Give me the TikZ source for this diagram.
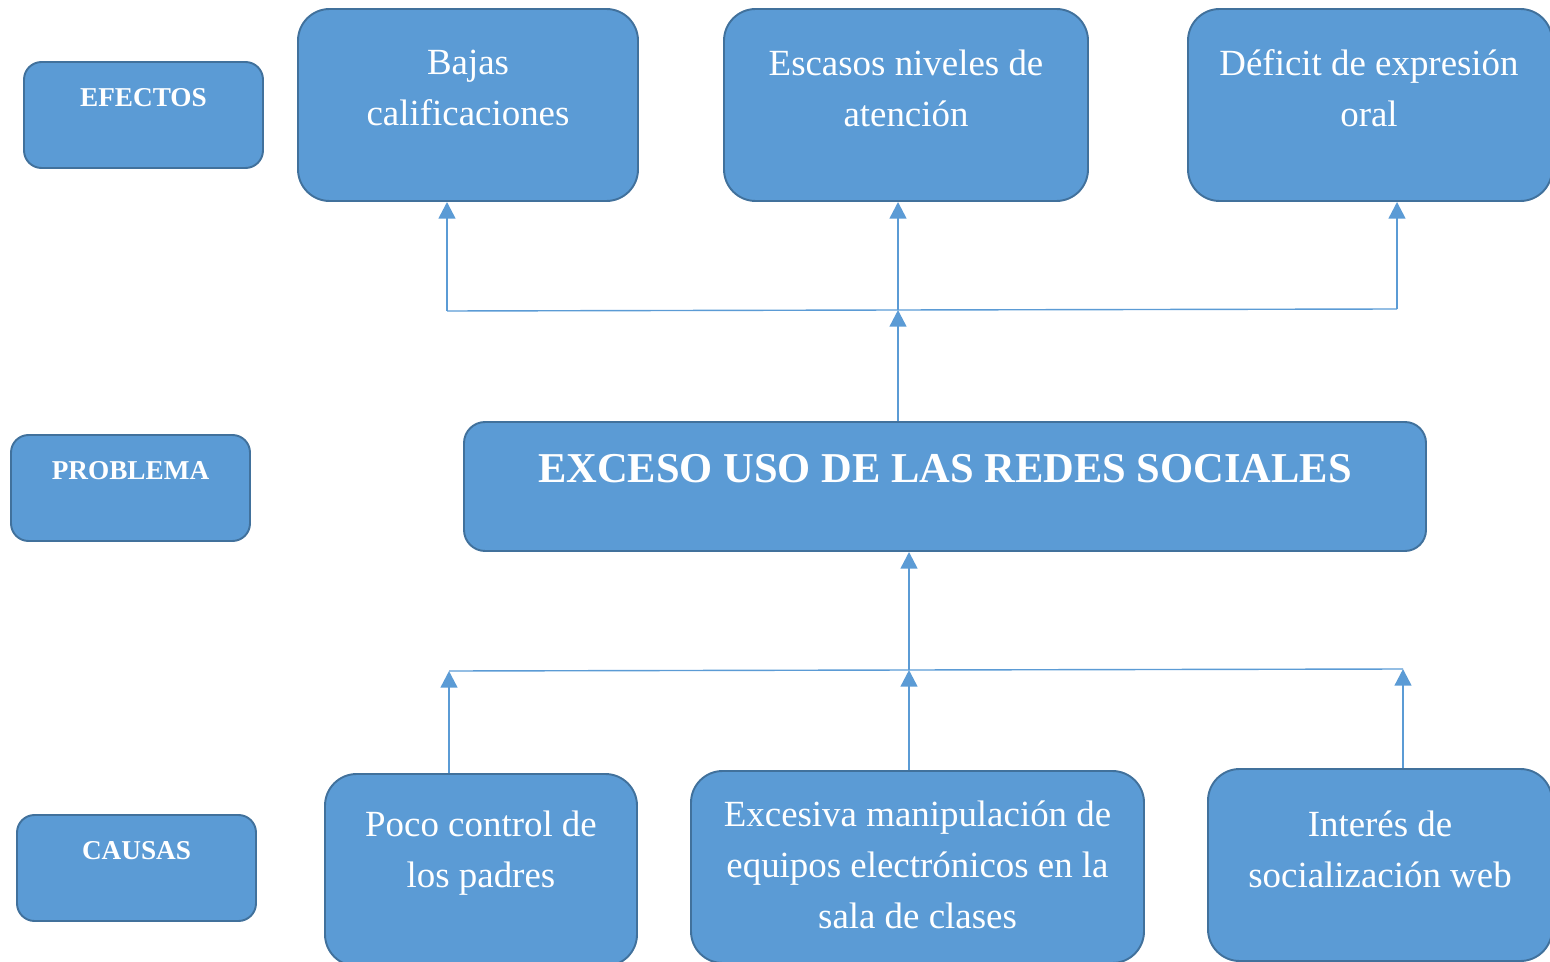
\documentclass[tikz,border=0pt]{standalone}
\usepackage{fontspec}
\setmainfont{Liberation Serif}
\usepackage{tikz}
\usetikzlibrary{arrows.meta}
\definecolor{azul}{HTML}{5B9BD5}
\definecolor{borde}{HTML}{41719C}

\tikzset{
	caja/.style={draw=borde, fill=azul, line width=1.1pt, inner sep=0pt, rounded corners=#1},
	caja/.default=10pt,
	txt/.style={text=white, align=center, font=\fontsize{21}{29}\selectfont},
	etiqueta/.style={text=white, font=\fontsize{15.5}{18}\selectfont\bfseries},
	flecha/.style={draw=azul, line width=1.4pt, -{Triangle[width=9.5pt,length=9.5pt]}},
	bus/.style={draw=azul, line width=0.8pt}
}

\begin{document}
\begin{tikzpicture}[x=0.02cm, y=-0.02cm]
	\newcommand\px{0.02cm}
	
	\useasboundingbox (0,0) rectangle (1550,962);
	\clip (0,0) rectangle (1550,962);
	
	% columna izquierda
	\node[caja, minimum width=239*\px, minimum height=106*\px] (efectos) at (143.5,115) {};
	\node[etiqueta] (tefectos) at (143.5,98) {EFECTOS};
	\node[caja, minimum width=239*\px, minimum height=106*\px] (problema) at (130.5,488) {};
	\node[etiqueta] (tproblema) at (130.5,471) {PROBLEMA};
	\node[caja, minimum width=239*\px, minimum height=106*\px] (causas) at (136.5,868) {};
	\node[etiqueta] (tcausas) at (136.5,851) {CAUSAS};
	
	% efectos
	\node[caja=18pt, minimum width=340*\px, minimum height=192*\px] (bajas) at (468,105) {};
	\node[txt] (tbajas) at (468,88) {Bajas\\calificaciones};
	\node[caja=18pt, minimum width=364*\px, minimum height=192*\px] (escasos) at (906,105) {};
	\node[txt] (tescasos) at (906,88) {Escasos niveles de\\atención};
	\node[caja=18pt, minimum width=364*\px, minimum height=192*\px] (deficit) at (1370,105) {};
	\node[txt] (tdeficit) at (1369,88) {Déficit de expresión\\oral};
	
	% problema
	\node[caja=12pt, minimum width=962*\px, minimum height=129*\px] (exceso) at (945,486.5) {};
	\node[text=white, font=\fontsize{24.2}{30}\selectfont\bfseries] (texceso) at (945,469) {EXCESO USO DE LAS REDES SOCIALES};
	
	% causas
	\node[caja=18pt, minimum width=312*\px, minimum height=192*\px] (poco) at (481,870) {};
	\node[txt] (tpoco) at (481,853) {Poco control de\\los padres};
	\node[caja=18pt, minimum width=453*\px, minimum height=192*\px] (excesiva) at (917.5,867) {};
	\node[txt] (texcesiva) at (917.5,865) {Excesiva manipulación de\\equipos electrónicos en la\\sala de clases};
	\node[caja=18pt, minimum width=344*\px, minimum height=192*\px] (interes) at (1380,865) {};
	\node[txt] (tinteres) at (1380,849) {Interés de\\socialización web};
	
	% conectores de arriba
	\coordinate (ea) at (447,311);
	\coordinate (eb) at (898,310);
	\coordinate (ec) at (1397,309);
	\draw[bus] (ea) -- (eb) -- (ec);
	\draw[flecha] (ea) -- (ea |- bajas.south);
	\draw[flecha] (eb) -- (eb |- escasos.south);
	\draw[flecha] (ec) -- (ec |- deficit.south);
	\draw[flecha] (exceso.north -| eb) -- (eb);
	
	% conectores de abajo
	\coordinate (ca) at (449,671);
	\coordinate (cb) at (909,670);
	\coordinate (cc) at (1403,669);
	\draw[bus] (ca) -- (cb) -- (cc);
	\draw[flecha] (poco.north -| ca) -- (ca);
	\draw[flecha] (excesiva.north -| cb) -- (cb);
	\draw[flecha] (interes.north -| cc) -- (cc);
	\draw[flecha] (cb) -- (exceso.south -| cb);
	
\end{tikzpicture}
\end{document}
